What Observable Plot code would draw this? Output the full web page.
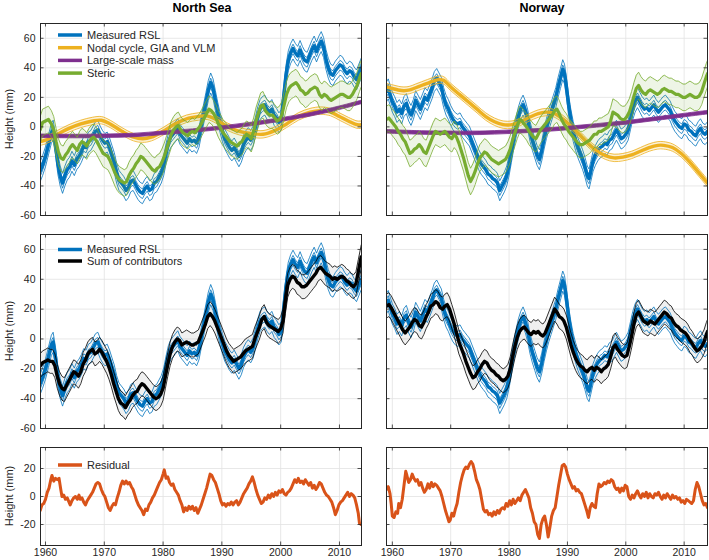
<!DOCTYPE html>
<html><head><meta charset="utf-8">
<script src="https://cdn.jsdelivr.net/npm/d3@7"></script>
<script src="https://cdn.jsdelivr.net/npm/@observablehq/plot@0.6"></script>
<style>
body{margin:0;background:#fff;}
#wrap{position:relative;width:709px;height:560px;overflow:hidden;}
</style>
</head><body><div id="wrap"></div>
<script>
// ---------- labels ----------
const titles = ["North Sea", "Norway"];
const yLabel = "Height (mm)";
const legendTop = ["Measured RSL", "Nodal cycle, GIA and VLM", "Large-scale mass", "Steric"];
const legendMid = ["Measured RSL", "Sum of contributors"];
const legendBot = ["Residual"];
const xTicks = [1960, 1970, 1980, 1990, 2000, 2010];
const yTicksMain = [-60, -40, -20, 0, 20, 40, 60];
const yTicksRes = [-20, 0, 20];

// ---------- North Sea ----------
const nsRSL = [[1959.1,-30],[1959.5,-26],[1960.0,-20],[1960.5,-12],[1961.0,-4],[1961.3,-2],[1961.7,-12],[1962.1,-25],[1962.5,-33],[1962.9,-38],[1963.3,-33],[1963.7,-29],[1964.1,-27],[1964.5,-23],[1964.9,-26],[1965.3,-22],[1965.7,-20],[1966.1,-17],[1966.5,-13],[1966.9,-14],[1967.3,-10],[1967.7,-9],[1968.1,-6],[1968.5,-3],[1968.9,-2],[1969.3,-6],[1969.7,-9],[1970.1,-11],[1970.5,-10],[1970.9,-14],[1971.3,-19],[1971.7,-24],[1972.1,-31],[1972.5,-36],[1972.9,-38],[1973.3,-40],[1973.7,-43],[1974.1,-41],[1974.5,-37],[1974.9,-36],[1975.3,-39],[1975.7,-42],[1976.1,-44],[1976.5,-45],[1976.9,-42],[1977.3,-40],[1977.7,-43],[1978.1,-42],[1978.5,-38],[1978.9,-37],[1979.3,-34],[1979.7,-31],[1980.1,-26],[1980.5,-18],[1980.9,-11],[1981.3,-7],[1981.7,-5],[1982.1,-3],[1982.5,-1],[1982.9,-5],[1983.3,-7],[1983.7,-9],[1984.1,-11],[1984.5,-8],[1984.9,-10],[1985.3,-9],[1985.7,-11],[1986.1,-7],[1986.5,1],[1986.9,9],[1987.3,17],[1987.7,25],[1988.1,30],[1988.5,26],[1988.9,18],[1989.3,10],[1989.7,3],[1990.1,-3],[1990.5,-8],[1990.9,-11],[1991.3,-14],[1991.7,-16],[1992.1,-14],[1992.5,-17],[1992.9,-20],[1993.3,-17],[1993.7,-12],[1994.1,-9],[1994.5,-7],[1994.9,-9],[1995.3,-6],[1995.7,0],[1996.1,7],[1996.5,12],[1996.9,14],[1997.3,15],[1997.7,12],[1998.1,10],[1998.5,12],[1998.9,8],[1999.3,6],[1999.7,3],[2000.1,5],[2000.5,20],[2000.9,35],[2001.3,45],[2001.7,50],[2002.1,53],[2002.5,50],[2002.9,48],[2003.3,52],[2003.7,48],[2004.1,45],[2004.5,44],[2004.9,48],[2005.3,52],[2005.7,55],[2006.1,51],[2006.5,55],[2006.9,58],[2007.3,54],[2007.7,46],[2008.1,40],[2008.5,36],[2008.9,35],[2009.3,38],[2009.7,40],[2010.1,42],[2010.5,41],[2010.9,38],[2011.3,36],[2011.7,38],[2012.1,37],[2012.5,34],[2012.9,32],[2013.3,36],[2013.7,40]];
const nsSteric = [[1959.1,-2],[1959.5,3],[1960.0,4],[1960.5,5],[1961.0,2],[1961.4,-2],[1961.8,-10],[1962.2,-17],[1962.6,-21],[1963.0,-22],[1963.4,-19],[1963.8,-17],[1964.2,-14],[1964.6,-12],[1965.0,-14],[1965.4,-16],[1965.8,-12],[1966.2,-10],[1966.6,-11],[1967.0,-13],[1967.4,-10],[1967.8,-8],[1968.2,-7],[1968.6,-9],[1969.0,-12],[1969.4,-15],[1969.8,-18],[1970.2,-19],[1970.6,-20],[1971.0,-23],[1971.4,-27],[1971.8,-31],[1972.2,-34],[1972.6,-36],[1973.0,-37],[1973.4,-38],[1973.8,-37],[1974.2,-33],[1974.6,-30],[1975.0,-28],[1975.4,-25],[1975.8,-23],[1976.2,-20],[1976.6,-21],[1977.0,-23],[1977.4,-25],[1977.8,-27],[1978.2,-29],[1978.6,-30],[1979.0,-28],[1979.4,-27],[1979.8,-24],[1980.2,-20],[1980.6,-15],[1981.0,-10],[1981.4,-5],[1981.8,-2],[1982.2,0],[1982.6,1],[1983.0,-2],[1983.4,-4],[1983.8,-5],[1984.2,-6],[1984.6,-4],[1985.0,-3],[1985.4,-4],[1985.8,-2],[1986.2,0],[1986.6,3],[1987.0,6],[1987.4,9],[1987.8,12],[1988.2,11],[1988.6,9],[1989.0,6],[1989.4,2],[1989.8,-1],[1990.2,-4],[1990.6,-6],[1991.0,-8],[1991.4,-10],[1991.8,-11],[1992.2,-12],[1992.6,-13],[1993.0,-11],[1993.4,-10],[1993.8,-7],[1994.2,-5],[1994.6,-6],[1995.0,-8],[1995.4,-3],[1995.8,4],[1996.2,9],[1996.6,14],[1997.0,15],[1997.4,11],[1997.8,9],[1998.2,8],[1998.6,8],[1999.0,6],[1999.4,4],[1999.8,5],[2000.2,8],[2000.6,15],[2001.0,22],[2001.4,26],[2001.8,28],[2002.2,29],[2002.6,30],[2003.0,28],[2003.4,25],[2003.8,24],[2004.2,22],[2004.6,23],[2005.0,25],[2005.4,26],[2005.8,27],[2006.2,26],[2006.6,22],[2007.0,20],[2007.4,22],[2007.8,21],[2008.2,19],[2008.6,18],[2009.0,19],[2009.4,20],[2009.8,21],[2010.2,22],[2010.6,22],[2011.0,21],[2011.4,20],[2011.8,20],[2012.2,22],[2012.6,25],[2013.0,28],[2013.4,33],[2013.7,36]];
const nsNodal = [[1959.1,-10],[1960,-9],[1962,-5],[1964,-1],[1966,2],[1968,4],[1969.5,4.5],[1971,2],[1973,-3],[1975,-7],[1976.5,-8],[1978,-7],[1980,-3],[1982,2],[1984,5.5],[1986,7],[1987.5,7.5],[1989,5],[1991,0],[1993,-3],[1995,-4.5],[1997,-5],[1999,-2.5],[2001,2],[2003,7],[2005,10],[2006.8,11],[2008.5,10],[2010,7],[2011.5,4],[2013,1.5],[2013.8,1.5]];
const nsMass = [[1959.1,-6],[1965,-6.2],[1970,-6],[1975,-5.5],[1980,-4],[1985,-2.5],[1990,-0.5],[1995,2],[2000,5],[2005,8.5],[2010,13],[2013.8,17]];
const nsSum = [[1959.1,-18],[1959.5,-16],[1960.0,-15],[1960.4,-14],[1960.8,-15],[1961.2,-15],[1961.6,-18],[1962.0,-25],[1962.4,-30],[1962.8,-33],[1963.2,-34],[1963.6,-31],[1964.0,-28],[1964.4,-25],[1964.8,-22],[1965.2,-23],[1965.6,-25],[1966.0,-22],[1966.4,-17],[1966.8,-14],[1967.2,-10],[1967.6,-8],[1968.0,-7],[1968.4,-10],[1968.8,-9],[1969.2,-7],[1969.6,-9],[1970.0,-12],[1970.4,-15],[1970.8,-19],[1971.2,-24],[1971.6,-30],[1972.0,-35],[1972.4,-40],[1972.8,-43],[1973.2,-44],[1973.6,-46],[1974.0,-43],[1974.4,-41],[1974.8,-38],[1975.2,-36],[1975.6,-35],[1976.0,-32],[1976.4,-30],[1976.8,-31],[1977.2,-33],[1977.6,-35],[1978.0,-37],[1978.4,-39],[1978.8,-40],[1979.2,-39],[1979.6,-37],[1980.0,-33],[1980.4,-25],[1980.8,-17],[1981.2,-10],[1981.6,-5],[1982.0,-2],[1982.4,0],[1982.8,-1],[1983.2,-4],[1983.6,-3],[1984.0,-2],[1984.4,-3],[1984.8,-4],[1985.2,-4],[1985.6,-3],[1986.0,-2],[1986.4,2],[1986.8,6],[1987.2,10],[1987.6,15],[1988.0,17],[1988.4,15],[1988.8,12],[1989.2,8],[1989.6,4],[1990.0,0],[1990.4,-4],[1990.8,-8],[1991.2,-11],[1991.6,-13],[1992.0,-15],[1992.4,-14],[1992.8,-13],[1993.2,-12],[1993.6,-10],[1994.0,-8],[1994.4,-7],[1994.8,-6],[1995.2,-5],[1995.6,0],[1996.0,4],[1996.4,8],[1996.8,13],[1997.2,15],[1997.6,11],[1998.0,9],[1998.4,8],[1998.8,7],[1999.2,6],[1999.6,5],[2000.0,7],[2000.4,12],[2000.8,25],[2001.2,36],[2001.6,40],[2002.0,42],[2002.4,41],[2002.8,38],[2003.2,37],[2003.6,35],[2004.0,35],[2004.4,36],[2004.8,38],[2005.2,40],[2005.6,42],[2006.0,44],[2006.4,47],[2006.8,48],[2007.2,46],[2007.6,44],[2008.0,43],[2008.4,42],[2008.8,40],[2009.2,41],[2009.6,40],[2010.0,41],[2010.4,42],[2010.8,41],[2011.2,39],[2011.6,38],[2012.0,36],[2012.4,35],[2012.8,37],[2013.2,45],[2013.7,55]];
const nsResid = [[1959.1,-10],[1959.4,-6],[1959.7,-5],[1960.0,-2],[1960.3,3],[1960.6,6],[1960.9,12],[1961.1,15],[1961.4,11],[1961.7,13],[1962.0,12],[1962.3,13],[1962.6,5],[1962.8,0],[1963.1,1],[1963.4,-2],[1963.7,-1],[1964.0,-4],[1964.2,-6],[1964.5,-3],[1964.8,-1],[1965.1,0],[1965.4,-2],[1965.7,1],[1965.9,-2],[1966.2,-1],[1966.5,-4],[1966.8,-6],[1967.1,-3],[1967.4,-1],[1967.7,1],[1968.0,3],[1968.3,6],[1968.6,9],[1968.9,10],[1969.2,9],[1969.5,5],[1969.8,2],[1970.1,0],[1970.4,-4],[1970.7,-8],[1971.0,-10],[1971.3,-7],[1971.6,-5],[1971.9,-6],[1972.2,-1],[1972.5,3],[1972.8,8],[1973.1,11],[1973.4,9],[1973.7,11],[1974.0,9],[1974.3,10],[1974.6,7],[1974.9,5],[1975.2,1],[1975.5,-3],[1975.8,-6],[1976.1,-8],[1976.4,-10],[1976.7,-13],[1977.0,-9],[1977.3,-10],[1977.6,-6],[1977.9,-4],[1978.2,-1],[1978.5,1],[1978.8,4],[1979.1,7],[1979.4,10],[1979.7,12],[1980.0,16],[1980.2,19],[1980.5,13],[1980.8,14],[1981.1,10],[1981.4,8],[1981.7,9],[1982.0,5],[1982.3,3],[1982.6,1],[1982.9,-3],[1983.2,-6],[1983.5,-11],[1983.8,-8],[1984.1,-10],[1984.4,-7],[1984.7,-9],[1985.0,-7],[1985.3,-10],[1985.6,-8],[1985.9,-12],[1986.2,-9],[1986.5,-6],[1986.8,-2],[1987.1,2],[1987.4,6],[1987.7,11],[1988.0,16],[1988.3,15],[1988.6,12],[1988.9,10],[1989.2,6],[1989.5,2],[1989.8,-3],[1990.1,-6],[1990.4,-5],[1990.7,-7],[1991.0,-5],[1991.3,-6],[1991.6,-4],[1991.9,-6],[1992.2,-4],[1992.5,-3],[1992.8,-6],[1993.1,-4],[1993.4,-1],[1993.7,2],[1994.0,4],[1994.3,6],[1994.6,9],[1994.9,11],[1995.2,14],[1995.5,10],[1995.8,5],[1996.1,1],[1996.4,-2],[1996.7,-5],[1997.0,-4],[1997.3,-1],[1997.6,-2],[1997.9,1],[1998.2,-1],[1998.5,2],[1998.8,0],[1999.1,3],[1999.4,1],[1999.7,4],[2000.0,3],[2000.3,5],[2000.6,2],[2000.9,1],[2001.2,3],[2001.5,4],[2001.8,6],[2002.1,9],[2002.4,12],[2002.7,10],[2003.0,13],[2003.3,10],[2003.6,11],[2003.9,9],[2004.2,12],[2004.5,10],[2004.8,8],[2005.1,10],[2005.4,6],[2005.7,8],[2006.0,5],[2006.3,7],[2006.6,10],[2006.9,9],[2007.2,6],[2007.5,3],[2007.8,1],[2008.1,0],[2008.4,-2],[2008.7,-4],[2009.0,-8],[2009.3,-13],[2009.6,-10],[2009.9,-6],[2010.2,-4],[2010.5,-3],[2010.8,-1],[2011.1,1],[2011.4,3],[2011.7,0],[2012.0,2],[2012.3,1],[2012.6,-1],[2012.9,-6],[2013.2,-12],[2013.4,-19],[2013.7,-20]];

// ---------- Norway ----------
const nwRSL = [[1959.0,24],[1959.3,26],[1959.6,22],[1960.0,17],[1960.4,14],[1960.8,10],[1961.2,12],[1961.6,9],[1962.0,14],[1962.4,16],[1962.8,11],[1963.2,8],[1963.6,12],[1964.0,18],[1964.4,15],[1964.8,12],[1965.2,16],[1965.6,20],[1966.0,18],[1966.4,22],[1966.8,26],[1967.2,31],[1967.6,33],[1968.0,30],[1968.4,27],[1968.8,20],[1969.2,15],[1969.6,12],[1970.0,8],[1970.4,5],[1970.8,3],[1971.2,2],[1971.6,3],[1972.0,0],[1972.4,-2],[1972.8,-4],[1973.2,-6],[1973.6,-10],[1974.0,-14],[1974.4,-18],[1974.8,-22],[1975.2,-25],[1975.6,-27],[1976.0,-29],[1976.4,-32],[1976.8,-33],[1977.2,-35],[1977.6,-36],[1978.0,-38],[1978.4,-43],[1978.8,-40],[1979.2,-37],[1979.6,-33],[1980.0,-26],[1980.4,-17],[1980.8,-8],[1981.2,0],[1981.6,7],[1982.0,12],[1982.4,15],[1982.8,11],[1983.2,5],[1983.6,-3],[1984.0,-9],[1984.4,-14],[1984.8,-19],[1985.2,-22],[1985.6,-16],[1986.0,-8],[1986.4,-1],[1986.8,5],[1987.2,10],[1987.6,15],[1988.0,20],[1988.4,27],[1988.8,33],[1989.2,39],[1989.5,36],[1989.8,28],[1990.2,15],[1990.6,5],[1991.0,-3],[1991.4,-9],[1991.8,-14],[1992.2,-18],[1992.6,-22],[1993.0,-27],[1993.4,-33],[1993.7,-35],[1994.0,-30],[1994.4,-23],[1994.8,-19],[1995.2,-16],[1995.6,-14],[1996.0,-13],[1996.4,-11],[1996.8,-12],[1997.2,-9],[1997.6,-8],[1998.0,-5],[1998.4,-2],[1998.8,-5],[1999.2,-8],[1999.6,-7],[2000.0,-5],[2000.4,-2],[2000.8,5],[2001.2,12],[2001.6,17],[2002.0,20],[2002.4,17],[2002.8,14],[2003.2,12],[2003.6,13],[2004.0,11],[2004.4,13],[2004.8,15],[2005.2,12],[2005.6,10],[2006.0,12],[2006.4,14],[2006.8,15],[2007.2,13],[2007.6,11],[2008.0,7],[2008.4,4],[2008.8,2],[2009.2,0],[2009.6,-1],[2010.0,2],[2010.4,1],[2010.8,-2],[2011.2,-3],[2011.6,-5],[2012.0,-6],[2012.4,-3],[2012.8,-1],[2013.2,-4],[2013.6,-5],[2014.0,-3]];
const nwSteric = [[1959.0,5],[1959.4,6],[1959.8,4],[1960.2,2],[1960.6,0],[1961.0,-3],[1961.4,-5],[1961.8,-8],[1962.2,-10],[1962.6,-14],[1963.0,-18],[1963.4,-17],[1963.8,-15],[1964.2,-14],[1964.6,-12],[1965.0,-14],[1965.4,-17],[1965.8,-18],[1966.2,-14],[1966.6,-10],[1967.0,-6],[1967.4,-3],[1967.8,-4],[1968.2,-5],[1968.6,-4],[1969.0,-3],[1969.4,-5],[1969.8,-7],[1970.2,-8],[1970.6,-5],[1971.0,-7],[1971.4,-11],[1971.8,-16],[1972.2,-21],[1972.6,-27],[1973.0,-33],[1973.4,-37],[1973.8,-34],[1974.2,-30],[1974.6,-25],[1975.0,-21],[1975.4,-19],[1975.8,-17],[1976.2,-18],[1976.6,-20],[1977.0,-22],[1977.4,-23],[1977.8,-24],[1978.2,-25],[1978.6,-24],[1979.0,-23],[1979.4,-22],[1979.8,-19],[1980.2,-15],[1980.6,-9],[1981.0,-4],[1981.4,1],[1981.8,5],[1982.2,4],[1982.6,2],[1983.0,0],[1983.4,-3],[1983.8,-5],[1984.2,-7],[1984.6,-8],[1985.0,-5],[1985.4,-2],[1985.8,0],[1986.2,2],[1986.6,4],[1987.0,6],[1987.4,8],[1987.8,11],[1988.2,12],[1988.6,9],[1989.0,5],[1989.4,2],[1989.8,0],[1990.2,-3],[1990.6,-5],[1991.0,-7],[1991.4,-9],[1991.8,-11],[1992.2,-12],[1992.6,-12],[1993.0,-11],[1993.4,-10],[1993.8,-9],[1994.2,-7],[1994.6,-5],[1995.0,-5],[1995.4,-3],[1995.8,-3],[1996.2,-2],[1996.6,-1],[1997.0,0],[1997.4,4],[1997.8,10],[1998.2,9],[1998.6,8],[1999.0,6],[1999.4,5],[1999.8,5],[2000.2,7],[2000.6,10],[2001.0,15],[2001.4,21],[2001.8,26],[2002.2,28],[2002.6,25],[2003.0,23],[2003.4,22],[2003.8,24],[2004.2,25],[2004.6,24],[2005.0,23],[2005.4,22],[2005.8,23],[2006.2,25],[2006.6,26],[2007.0,25],[2007.4,24],[2007.8,24],[2008.2,23],[2008.6,22],[2009.0,22],[2009.4,21],[2009.8,20],[2010.2,20],[2010.6,21],[2011.0,22],[2011.4,21],[2011.8,20],[2012.2,20],[2012.6,21],[2013.0,24],[2013.4,29],[2013.8,34],[2014.0,36]];
const nwNodal = [[1959.0,27],[1960,26],[1961,25],[1962,24.5],[1963,25],[1964,26.5],[1965,28],[1966,29.5],[1967,31],[1968,32],[1968.8,31.5],[1970,27],[1971.5,22],[1973,17],[1974.5,12],[1976,7],[1977.5,3.5],[1979,1.5],[1980.5,1.5],[1982,3.5],[1983.5,6.5],[1985,9],[1986.3,10],[1987.5,9.5],[1989,6],[1990.5,1],[1992,-5],[1993.5,-11],[1995,-16],[1996.5,-19.5],[1998,-21],[1999.5,-20.5],[2001,-19],[2002.5,-16.5],[2004,-14],[2005.5,-12.5],[2006.5,-12.5],[2008,-14],[2009.5,-18],[2011,-24],[2012.5,-31],[2014,-38]];
const nwMass = [[1959.0,-3],[1965,-3.8],[1970,-4],[1975,-4],[1980,-3.3],[1985,-2.3],[1990,-0.8],[1995,1],[2000,3],[2005,5.5],[2010,8],[2014,10]];
const nwSum = [[1959.0,22],[1959.4,23],[1959.8,21],[1960.2,18],[1960.6,15],[1961.0,12],[1961.4,9],[1961.8,6],[1962.2,4],[1962.6,6],[1963.0,8],[1963.4,11],[1963.8,13],[1964.2,12],[1964.6,9],[1965.0,8],[1965.4,11],[1965.8,15],[1966.2,18],[1966.6,22],[1967.0,23],[1967.4,25],[1967.8,24],[1968.2,21],[1968.6,20],[1969.0,22],[1969.4,23],[1969.8,20],[1970.2,15],[1970.6,10],[1971.0,4],[1971.4,-2],[1971.8,-6],[1972.2,-10],[1972.6,-15],[1973.0,-19],[1973.4,-23],[1973.8,-26],[1974.2,-25],[1974.6,-22],[1975.0,-20],[1975.4,-17],[1975.8,-15],[1976.2,-16],[1976.6,-19],[1977.0,-21],[1977.4,-22],[1977.8,-24],[1978.2,-25],[1978.6,-27],[1979.0,-28],[1979.4,-27],[1979.8,-25],[1980.2,-20],[1980.6,-12],[1981.0,-5],[1981.4,1],[1981.8,5],[1982.2,7],[1982.6,8],[1983.0,6],[1983.4,4],[1983.8,3],[1984.2,5],[1984.6,4],[1985.0,5],[1985.4,3],[1985.8,2],[1986.2,4],[1986.6,8],[1987.0,12],[1987.4,16],[1987.8,20],[1988.2,18],[1988.6,15],[1989.0,14],[1989.4,12],[1989.8,8],[1990.2,2],[1990.6,-4],[1991.0,-9],[1991.4,-13],[1991.8,-16],[1992.2,-18],[1992.6,-19],[1993.0,-21],[1993.4,-22],[1993.8,-20],[1994.2,-19],[1994.6,-21],[1995.0,-19],[1995.4,-20],[1995.8,-22],[1996.2,-20],[1996.6,-19],[1997.0,-17],[1997.4,-12],[1997.8,-6],[1998.2,-4],[1998.6,-7],[1999.0,-9],[1999.4,-11],[1999.8,-12],[2000.2,-11],[2000.6,-5],[2001.0,2],[2001.4,10],[2001.8,16],[2002.2,18],[2002.6,15],[2003.0,12],[2003.4,11],[2003.8,10],[2004.2,12],[2004.6,11],[2005.0,10],[2005.4,12],[2005.8,14],[2006.2,16],[2006.6,18],[2007.0,17],[2007.4,15],[2007.8,14],[2008.2,11],[2008.6,9],[2009.0,8],[2009.4,6],[2009.8,5],[2010.2,4],[2010.6,2],[2011.0,-1],[2011.4,-3],[2011.8,-6],[2012.2,-8],[2012.6,-7],[2013.0,-5],[2013.4,-2],[2013.8,3],[2014.0,5]];
const nwResid = [[1959.0,5],[1959.3,7],[1959.6,2],[1959.8,-5],[1960.0,-14],[1960.3,-15],[1960.6,-11],[1960.9,-12],[1961.1,-5],[1961.4,-8],[1961.7,-2],[1962.0,8],[1962.3,18],[1962.5,15],[1962.8,10],[1963.1,12],[1963.4,16],[1963.7,13],[1964.0,11],[1964.3,12],[1964.6,8],[1964.9,10],[1965.2,6],[1965.5,3],[1965.8,5],[1966.1,9],[1966.4,6],[1966.7,10],[1967.0,7],[1967.3,9],[1967.6,8],[1967.9,6],[1968.2,4],[1968.5,0],[1968.8,-5],[1969.1,-10],[1969.4,-14],[1969.7,-18],[1969.9,-17],[1970.2,-12],[1970.5,-14],[1970.8,-9],[1971.1,-5],[1971.4,3],[1971.7,10],[1972.0,15],[1972.3,19],[1972.6,21],[1972.9,20],[1973.2,23],[1973.5,25],[1973.8,23],[1974.1,18],[1974.4,12],[1974.7,9],[1975.0,5],[1975.3,-2],[1975.6,-9],[1975.9,-11],[1976.2,-10],[1976.5,-13],[1976.8,-12],[1977.1,-14],[1977.4,-11],[1977.7,-13],[1978.0,-10],[1978.3,-12],[1978.6,-9],[1978.9,-8],[1979.2,-9],[1979.5,-5],[1979.8,-7],[1980.1,-3],[1980.4,-6],[1980.7,-2],[1981.0,-5],[1981.3,-3],[1981.6,-1],[1981.9,-3],[1982.2,1],[1982.5,3],[1982.8,5],[1983.1,2],[1983.4,-1],[1983.7,-8],[1984.0,-12],[1984.3,-18],[1984.6,-20],[1984.9,-27],[1985.2,-30],[1985.5,-20],[1985.8,-16],[1986.1,-14],[1986.4,-20],[1986.7,-29],[1987.0,-22],[1987.3,-14],[1987.6,-10],[1987.9,-8],[1988.2,0],[1988.5,8],[1988.8,15],[1989.1,22],[1989.4,23],[1989.7,21],[1990.0,16],[1990.3,12],[1990.6,9],[1990.9,6],[1991.2,7],[1991.5,4],[1991.8,5],[1992.1,3],[1992.4,2],[1992.7,-2],[1993.0,-6],[1993.3,-10],[1993.6,-15],[1993.9,-8],[1994.2,-5],[1994.5,-7],[1994.8,-8],[1995.1,2],[1995.4,9],[1995.7,7],[1996.0,8],[1996.3,10],[1996.6,9],[1996.9,11],[1997.2,10],[1997.5,12],[1997.8,11],[1998.1,7],[1998.4,5],[1998.7,6],[1999.0,3],[1999.3,6],[1999.6,4],[1999.9,8],[2000.2,7],[2000.5,0],[2000.8,-2],[2001.1,1],[2001.4,-1],[2001.7,2],[2002.0,4],[2002.3,1],[2002.6,-1],[2002.9,2],[2003.2,0],[2003.5,3],[2003.8,-1],[2004.1,2],[2004.4,0],[2004.7,-1],[2005.0,2],[2005.3,1],[2005.6,3],[2005.9,0],[2006.2,-2],[2006.5,1],[2006.8,-1],[2007.1,2],[2007.4,0],[2007.7,-2],[2008.0,1],[2008.3,-1],[2008.6,0],[2008.9,-2],[2009.2,-1],[2009.5,-4],[2009.8,-3],[2010.1,-5],[2010.4,-2],[2010.7,-3],[2011.0,-4],[2011.3,-5],[2011.6,-3],[2011.9,5],[2012.2,10],[2012.5,7],[2012.8,2],[2013.1,-3],[2013.4,-6],[2013.7,-5],[2014.0,-8]];

// uncertainty half-widths / gauge spread (mm)
const gaugeOffsets = [-7, -3.5, 3, 6.5];
const nodalBand = 2.5, massBand = 1.2, stericBand = 9, sumBand = 8;

// ---------- styling ----------
const BLUE = "#0072BD", ORANGE = "#EDB120", PURPLE = "#7E2F8E", GREEN = "#77AC30", RED = "#D95319", INK = "#262626";
const FONT = "'Liberation Sans', Arial, Helvetica, sans-serif";

const rows = (pairs, d = 0) => pairs.map(([x, y]) => ({x, y: y + d}));
const band = (pairs, d) => pairs.map(([x, y]) => ({x, lo: y - d, hi: y + d}));

function line(pairs, stroke, w, d = 0, curve = "linear") {
  return Plot.line(rows(pairs, d), {x: "x", y: "y", stroke, strokeWidth: w, curve, clip: true});
}
function area(pairs, d, fill, op, curve = "linear") {
  return Plot.areaY(band(pairs, d), {x: "x", y1: "lo", y2: "hi", fill, fillOpacity: op, curve, clip: true});
}
function withBand(pairs, d, color, fillOp, curve) {
  return [area(pairs, d, color, fillOp, curve), line(pairs, color, 0.8, d, curve), line(pairs, color, 0.8, -d, curve)];
}
function gauges(pairs) {
  return [...gaugeOffsets.map(o => line(pairs, BLUE, 0.8, o)), line(pairs, BLUE, 3.4)];
}

function makePlot(o) {
  const {xDom, yDom, yTicks, w, h, mt, mb, ml, mr, showY, showX, marks} = o;
  const tx = (xDom[1] - xDom[0]) * 3.5 / (w - ml - mr);
  const ty = (yDom[1] - yDom[0]) * 3.5 / (h - mt - mb);
  const tk = {stroke: INK, strokeWidth: 0.8};
  const all = [
    Plot.gridX(xTicks, {stroke: "#e2e2e2", strokeOpacity: 1, strokeWidth: 0.8}),
    Plot.gridY(yTicks, {stroke: "#e2e2e2", strokeOpacity: 1, strokeWidth: 0.8}),
    ...marks,
    Plot.ruleY(yTicks, {x1: xDom[0], x2: xDom[0] + tx, ...tk}),
    Plot.ruleY(yTicks, {x1: xDom[1] - tx, x2: xDom[1], ...tk}),
    Plot.ruleX(xTicks, {y1: yDom[0], y2: yDom[0] + ty, ...tk}),
    Plot.ruleX(xTicks, {y1: yDom[1] - ty, y2: yDom[1], ...tk}),
    Plot.frame({stroke: INK, strokeWidth: 1}),
    showY ? Plot.axisY(yTicks, {anchor: "left", tickSize: 0, tickPadding: 5, label: null, fontSize: 10.5, tickFormat: d => String(d)}) : null,
    showX ? Plot.axisX(xTicks, {anchor: "bottom", tickSize: 0, tickPadding: 3, label: null, fontSize: 10.5, tickFormat: d => String(d)}) : null
  ].filter(Boolean);
  return Plot.plot({
    width: w, height: h, marginTop: mt, marginBottom: mb, marginLeft: ml, marginRight: mr,
    style: {fontFamily: FONT, fontSize: "10.5px", color: INK, background: "transparent", overflow: "visible"},
    x: {domain: xDom, axis: null},
    y: {domain: yDom, axis: null},
    marks: all
  });
}

const wrap = document.getElementById("wrap");
function place(svg, left, top) {
  svg.style.position = "absolute";
  svg.style.left = left + "px";
  svg.style.top = top + "px";
  wrap.appendChild(svg);
  return svg;
}
function addLegend(svg, items, y0, dy) {
  const g = d3.select(svg).append("g").attr("font-family", FONT).attr("font-size", 11).attr("text-anchor", "start");
  items.forEach(([label, color], i) => {
    const y = y0 + i * dy;
    g.append("line").attr("x1", 58).attr("x2", 82).attr("y1", y).attr("y2", y).attr("stroke", color).attr("stroke-width", 3.5);
    g.append("text").attr("x", 87).attr("y", y).attr("dy", "0.35em").attr("text-anchor", "start").attr("fill", INK).text(label);
  });
}
function addYLabel(svg, cy) {
  d3.select(svg).append("text").attr("transform", `translate(9,${cy}) rotate(-90)`)
    .attr("text-anchor", "middle").attr("dy", "0.35em").attr("font-family", FONT).attr("font-size", 11).attr("fill", INK).text(yLabel);
}
function addTitle(svg, cx, text) {
  d3.select(svg).append("text").attr("x", cx).attr("y", 8).attr("dy", "0.35em").attr("text-anchor", "middle")
    .attr("font-family", FONT).attr("font-size", 12.5).attr("font-weight", "bold").attr("fill", "#000").text(text);
}

const regions = [
  {rsl: nsRSL, steric: nsSteric, nodal: nsNodal, mass: nsMass, sum: nsSum, resid: nsResid,
   xDom: [1959.15, 2013.75], left: 0, w: 365, ml: 40, mr: 4, showY: true},
  {rsl: nwRSL, steric: nwSteric, nodal: nwNodal, mass: nwMass, sum: nwSum, resid: nwResid,
   xDom: [1959.0, 2014.0], left: 366, w: 343, ml: 20, mr: 2, showY: false}
];
const rowsCfg = [
  {top: 0, h: 230, mt: 23, mb: 15},
  {top: 220, h: 215, mt: 14, mb: 7},
  {top: 435, h: 125, mt: 12, mb: 15}
];

regions.forEach((r, ci) => {
  const base = {xDom: r.xDom, w: r.w, ml: r.ml, mr: r.mr, showY: r.showY};
  const topMarks = [
    ...gauges(r.rsl),
    ...withBand(r.nodal, nodalBand, ORANGE, 0.18, "catmull-rom"),
    line(r.nodal, ORANGE, 3.4, 0, "catmull-rom"),
    line(r.mass, PURPLE, 0.8, massBand, "catmull-rom"),
    line(r.mass, PURPLE, 0.8, -massBand, "catmull-rom"),
    line(r.mass, PURPLE, 3.4, 0, "catmull-rom"),
    ...withBand(r.steric, stericBand, GREEN, 0.12),
    line(r.steric, GREEN, 3.2)
  ];
  const c0 = rowsCfg[0];
  const s0 = place(makePlot({...base, ...c0, yDom: [-60, 70], yTicks: yTicksMain, showX: false, marks: topMarks}), r.left, c0.top);
  addTitle(s0, ci === 0 ? 202 : 176, titles[ci]);

  const midMarks = [
    area(r.sum, sumBand, "#000", 0.06),
    ...gauges(r.rsl),
    line(r.sum, "#000", 0.8, sumBand),
    line(r.sum, "#000", 0.8, -sumBand),
    line(r.sum, "#000", 3.4)
  ];
  const c1 = rowsCfg[1];
  const s1 = place(makePlot({...base, ...c1, yDom: [-60, 70], yTicks: yTicksMain, showX: false, marks: midMarks}), r.left, c1.top);

  const c2 = rowsCfg[2];
  const s2 = place(makePlot({...base, ...c2, yDom: [-35, 35], yTicks: yTicksRes, showX: true, marks: [line(r.resid, RED, 3)]}), r.left, c2.top);

  if (ci === 0) {
    addLegend(s0, legendTop.map((t, i) => [t, [BLUE, ORANGE, PURPLE, GREEN][i]]), 35, 12.7);
    addLegend(s1, legendMid.map((t, i) => [t, [BLUE, "#000"][i]]), 29.5, 11.5);
    addLegend(s2, legendBot.map(t => [t, RED]), 30, 12);
    [s0, s1, s2].forEach((s, i) => {
      const c = rowsCfg[i];
      addYLabel(s, (c.mt + c.h - c.mb) / 2);
    });
  }
});
</script></body></html>
